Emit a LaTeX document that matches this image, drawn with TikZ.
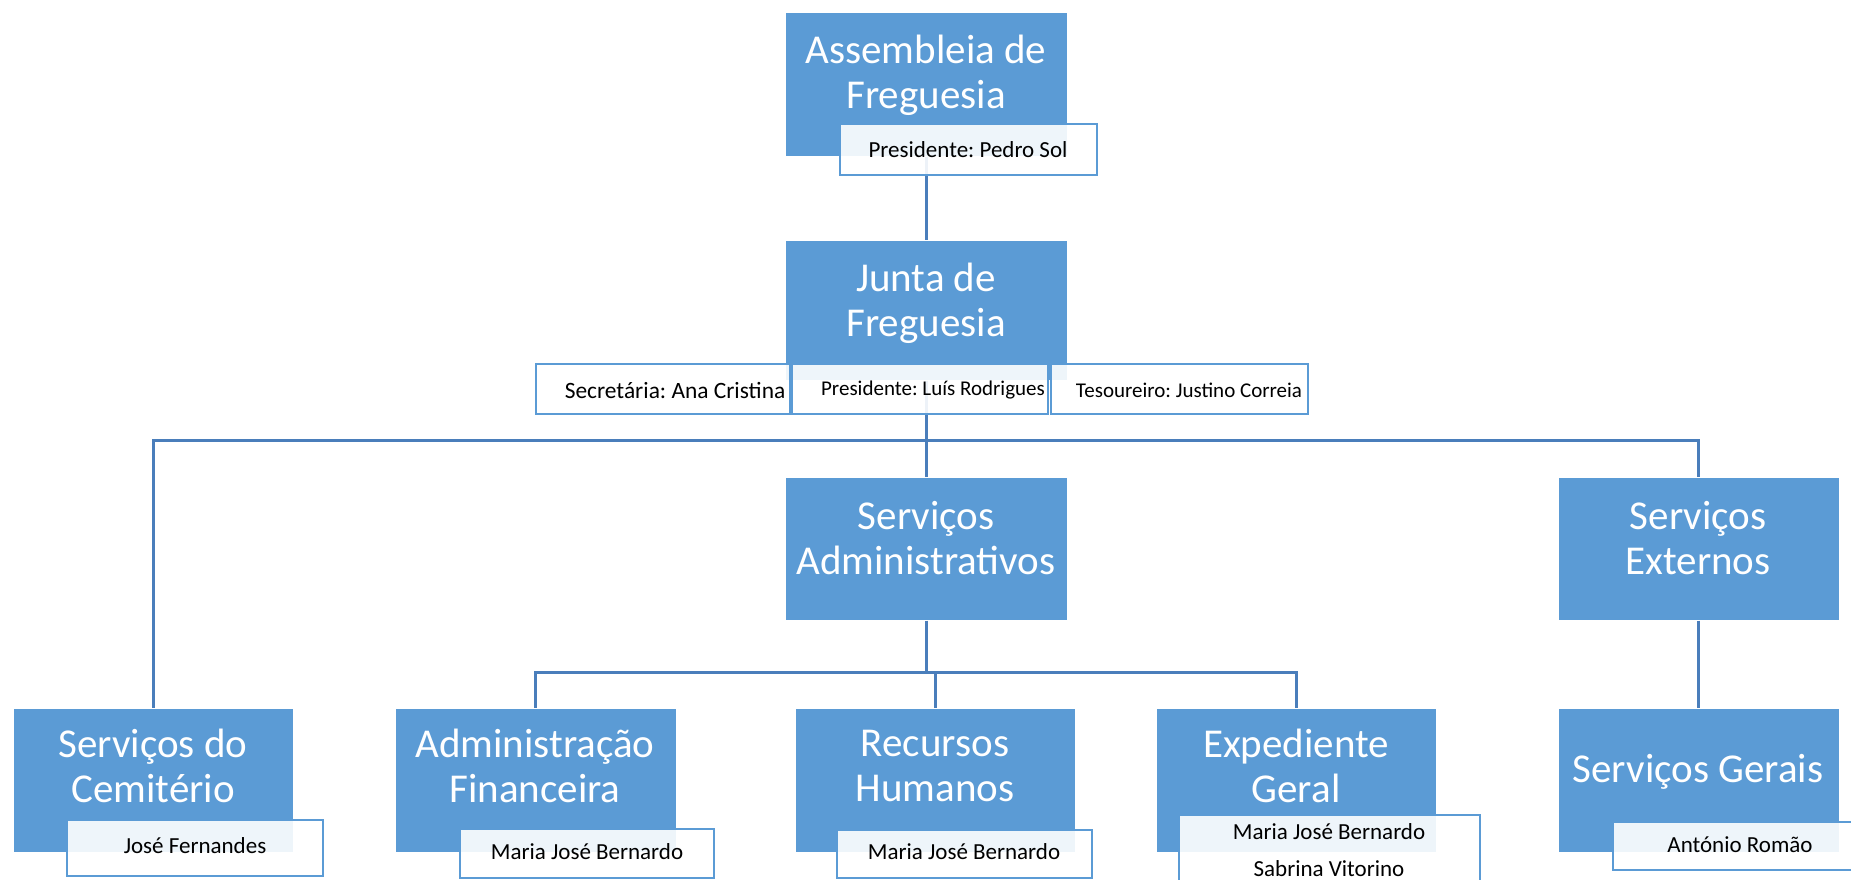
\documentclass[tikz,border=0pt]{standalone}
\usepackage{fontspec}
\setmainfont{Carlito}
\usetikzlibrary{fit}
\definecolor{boxblue}{HTML}{5B9BD5}
\definecolor{lineblue}{HTML}{4A7EBB}
\frenchspacing
\begin{document}
\frenchspacing
\begin{tikzpicture}[x=0.5pt,y=-0.5pt,
  bluebox/.style={fill=boxblue, draw=white, line width=0.5pt, inner sep=0pt},
  namebox/.style={fill=white, fill opacity=0.9, draw=boxblue, draw opacity=1, line width=1.4pt, inner sep=0pt},
  bigtext/.style={text=white, font=\fontsize{20.5}{22.5}\selectfont, align=center, inner sep=0pt},
  smalltext/.style={text=black, font=\fontsize{11.5}{13}\selectfont, align=center, inner sep=0pt},
  conn/.style={draw=lineblue, line width=1.5pt}]
\path[use as bounding box] (0,0) rectangle (1851,879);
\clip (0,0) rectangle (1851,879);
% blue boxes
\node[bluebox, fit={(785,12) (1067,156)}] (asm) {};
\node[bluebox, fit={(785,240) (1067,380)}] (junta) {};
\node[bluebox, fit={(785,477) (1067,620)}] (admin) {};
\node[bluebox, fit={(1558,477) (1839,620)}] (ext) {};
\node[bluebox, fit={(13,708) (293,852)}] (cem) {};
\node[bluebox, fit={(395,708) (676,852)}] (fin) {};
\node[bluebox, fit={(795,708) (1075,852)}] (rh) {};
\node[bluebox, fit={(1156,708) (1436,852)}] (exp) {};
\node[bluebox, fit={(1558,708) (1839,852)}] (ger) {};
% connectors
\coordinate (bus1) at (926,440);
\coordinate (bus2) at (926,672);
\draw[conn] (asm.south) -- (junta.north);
\draw[conn] (junta.south) -- (admin.north);
\draw[conn] (bus1) -| (cem.north);
\draw[conn] (bus1) -| (ext.north);
\draw[conn] (admin.south) -- (bus2);
\draw[conn] (bus2) -| (fin.north);
\draw[conn] (bus2) -| (rh.north);
\draw[conn] (bus2) -| (exp.north);
\draw[conn] (ext.south) -- (ger.north);
% name boxes
\node[namebox, fit={(840,124) (1097,175)}] (pPedro) {};
\node[namebox, fit={(536,364) (790,414)}] (pSec) {};
\node[namebox, fit={(792,364) (1048,414)}] (pLuis) {};
\node[namebox, fit={(1051,364) (1308,414)}] (pTes) {};
\node[namebox, fit={(67,820) (323,876)}] (pJose) {};
\node[namebox, fit={(460,829) (714,878)}] (pFin) {};
\node[namebox, fit={(837,830) (1092,878)}] (pRh) {};
\node[namebox, fit={(1179,815) (1480,900)}] (pExp) {};
\node[namebox, fit={(1613,822) (1870,870)}] (pAnt) {};
% big texts
\node[bigtext] (tAsm) at (926,75) {Assembleia de\\Freguesia};
\node[bigtext] (tJunta) at (926,303) {Junta de\\Freguesia};
\node[bigtext] (tAdmin) at (926,538) {Serviços\\Administrativos};
\node[bigtext] (tExt) at (1698,538) {Serviços\\Externos};
\node[bigtext] (tCem) at (153,766) {Serviços do\\Cemitério};
\node[bigtext] (tFin) at (535,766) {Administração\\Financeira};
\node[bigtext] (tRh) at (935,766) {Recursos\\Humanos};
\node[bigtext] (tExp) at (1296,766) {Expediente\\Geral};
\node[bigtext] (tGer) at (1698,772) {Serviços Gerais};
% small texts
\node[smalltext] (sPedro) at (968,150) {Presidente: Pedro Sol};
\node[smalltext, font=\fontsize{11.7}{13}\selectfont] (sSec) at (675,390) {Secretária: Ana Cristina};
\node[smalltext, font=\fontsize{10.5}{13}\selectfont] (sLuis) at (933,390) {Presidente: Luís Rodrigues};
\node[smalltext, font=\fontsize{10.5}{13}\selectfont] (sTes) at (1189,390) {Tesoureiro: Justino Correia};
\node[smalltext] (sJose) at (195,846) {José Fernandes};
\node[smalltext] (sFin) at (587,852) {Maria José Bernardo};
\node[smalltext] (sRh) at (964,852) {Maria José Bernardo};
\node[smalltext, font=\fontsize{11.5}{18.5}\selectfont] (sExp) at (1329,850) {Maria José Bernardo\\Sabrina Vitorino};
\node[smalltext] (sAnt) at (1740,845) {António Romão};
\end{tikzpicture}
\end{document}
